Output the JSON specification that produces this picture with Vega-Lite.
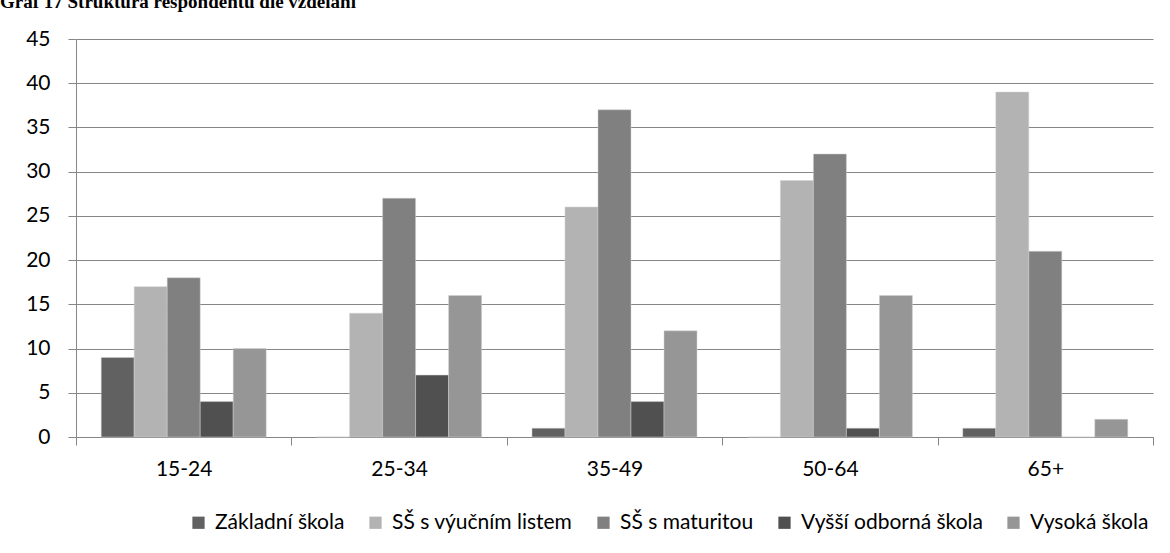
{
  "$schema": "https://vega.github.io/schema/vega-lite/v6.json",
  "autosize": {"type": "none"},
  "width": 1077,
  "height": 398,
  "padding": {"left": 76, "top": 39, "right": 17, "bottom": 116},
  "background": "white",
  "title": {
    "text": "Graf 17 Struktura respondentů dle vzdělání",
    "anchor": "start",
    "frame": "group",
    "font": "Liberation Serif",
    "fontSize": 19,
    "fontWeight": "bold",
    "color": "#000000",
    "baseline": "alphabetic",
    "dx": -76,
    "offset": 0,
    "dy": -1
  },
  "data": {
    "values": [
      {"vek": "15-24", "vzdelani": "Základní škola", "pocet": 9},
      {"vek": "15-24", "vzdelani": "SŠ s výučním listem", "pocet": 17},
      {"vek": "15-24", "vzdelani": "SŠ s maturitou", "pocet": 18},
      {"vek": "15-24", "vzdelani": "Vyšší odborná škola", "pocet": 4},
      {"vek": "15-24", "vzdelani": "Vysoká škola", "pocet": 10},
      {"vek": "25-34", "vzdelani": "Základní škola", "pocet": 0},
      {"vek": "25-34", "vzdelani": "SŠ s výučním listem", "pocet": 14},
      {"vek": "25-34", "vzdelani": "SŠ s maturitou", "pocet": 27},
      {"vek": "25-34", "vzdelani": "Vyšší odborná škola", "pocet": 7},
      {"vek": "25-34", "vzdelani": "Vysoká škola", "pocet": 16},
      {"vek": "35-49", "vzdelani": "Základní škola", "pocet": 1},
      {"vek": "35-49", "vzdelani": "SŠ s výučním listem", "pocet": 26},
      {"vek": "35-49", "vzdelani": "SŠ s maturitou", "pocet": 37},
      {"vek": "35-49", "vzdelani": "Vyšší odborná škola", "pocet": 4},
      {"vek": "35-49", "vzdelani": "Vysoká škola", "pocet": 12},
      {"vek": "50-64", "vzdelani": "Základní škola", "pocet": 0},
      {"vek": "50-64", "vzdelani": "SŠ s výučním listem", "pocet": 29},
      {"vek": "50-64", "vzdelani": "SŠ s maturitou", "pocet": 32},
      {"vek": "50-64", "vzdelani": "Vyšší odborná škola", "pocet": 1},
      {"vek": "50-64", "vzdelani": "Vysoká škola", "pocet": 16},
      {"vek": "65+", "vzdelani": "Základní škola", "pocet": 1},
      {"vek": "65+", "vzdelani": "SŠ s výučním listem", "pocet": 39},
      {"vek": "65+", "vzdelani": "SŠ s maturitou", "pocet": 21},
      {"vek": "65+", "vzdelani": "Vyšší odborná škola", "pocet": 0},
      {"vek": "65+", "vzdelani": "Vysoká škola", "pocet": 2}
    ]
  },
  "mark": {"type": "bar", "stroke": "#d0d0d0", "strokeWidth": 0.5},
  "encoding": {
    "x": {
      "field": "vek",
      "type": "nominal",
      "sort": null,
      "title": null,
      "scale": {"paddingInner": 0, "paddingOuter": 0},
      "axis": {
        "tickBand": "extent",
        "labelAngle": 0,
        "tickSize": 8,
        "labelPadding": 13,
        "domainColor": "#868686",
        "tickColor": "#868686",
        "labelFont": "Lato",
        "labelFontSize": 21,
        "labelColor": "#000000",
        "grid": false
      }
    },
    "xOffset": {
      "field": "vzdelani",
      "type": "nominal",
      "sort": null,
      "scale": {"paddingInner": 0, "paddingOuter": 0.7635}
    },
    "y": {
      "field": "pocet",
      "type": "quantitative",
      "title": null,
      "scale": {"domain": [0, 45], "nice": false},
      "axis": {
        "values": [0, 5, 10, 15, 20, 25, 30, 35, 40, 45],
        "tickSize": 8,
        "labelPadding": 18,
        "domainColor": "#868686",
        "tickColor": "#868686",
        "gridColor": "#868686",
        "grid": true,
        "labelFont": "Lato",
        "labelFontSize": 21,
        "labelColor": "#000000"
      }
    },
    "color": {
      "field": "vzdelani",
      "type": "nominal",
      "sort": null,
      "title": null,
      "scale": {
        "domain": ["Základní škola", "SŠ s výučním listem", "SŠ s maturitou", "Vyšší odborná škola", "Vysoká škola"],
        "range": ["#616161", "#b3b3b3", "#808080", "#505050", "#969696"]
      },
      "legend": {
        "orient": "none",
        "legendX": 112,
        "legendY": 473,
        "direction": "horizontal",
        "columns": 5,
        "symbolType": "square",
        "symbolSize": 150,
        "symbolStrokeWidth": 0,
        "labelFont": "Lato",
        "labelFontSize": 21,
        "labelColor": "#000000",
        "labelLimit": 400,
        "columnPadding": 20,
        "labelOffset": 6
      }
    }
  },
  "config": {
    "view": {"stroke": null},
    "axis": {"domainWidth": 1, "gridWidth": 1}
  }
}
